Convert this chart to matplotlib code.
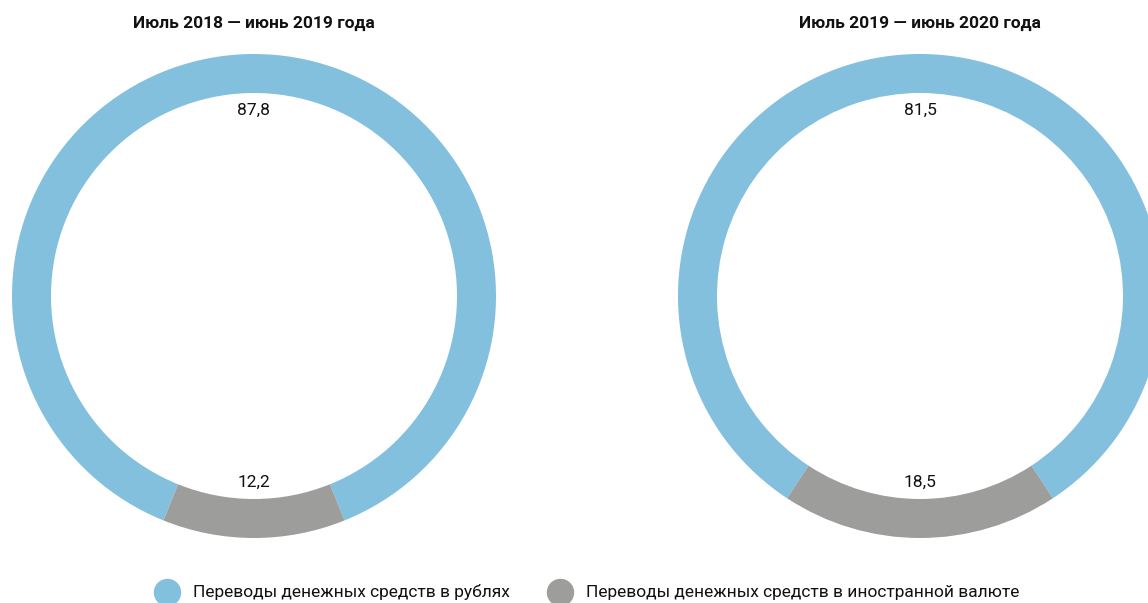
import matplotlib
matplotlib.use('Agg')
import matplotlib.pyplot as plt

plt.rcParams['font.family'] = ['Roboto', 'DejaVu Sans']

# data
periods = ['Июль 2018 — июнь 2019 года', 'Июль 2019 — июнь 2020 года']
rub = [87.8, 81.5]
foreign = [12.2, 18.5]
series_names = ['Переводы денежных средств в рублях',
                'Переводы денежных средств в иностранной валюте']
colors = ['#82c0dd', '#9d9d9b']

W, H = 1148, 603
fig = plt.figure(figsize=(W / 100, H / 100), dpi=100)
ax = fig.add_axes([0, 0, 1, 1])

centers_x = [254, 920]
cy = H - 296
R = 242
ring = 39

for i in range(2):
    vals = [rub[i], foreign[i]]
    tot = sum(vals)
    # grey part centred at the bottom
    start = 270 - 360 * vals[0] / tot - 180 * vals[1] / tot
    ax.pie(vals, colors=colors, startangle=start, center=(centers_x[i], cy),
           radius=R, labels=[('%.1f' % v).replace('.', ',') for v in vals],
           labeldistance=186 / R,
           wedgeprops=dict(width=ring, linewidth=0),
           textprops=dict(ha='center', va='center', fontsize=12.5, color='#111111'))
    ax.text(centers_x[i], H - 23, periods[i], ha='center', va='center',
            fontsize=12.5, fontweight='bold', color='#111111')

# legend
leg_x = [167, 560]
for j in range(2):
    ax.scatter([leg_x[j]], [H - 592], s=390, color=colors[j], linewidths=0, clip_on=False)
    ax.text(leg_x[j] + 26, H - 592, series_names[j], ha='left', va='center',
            fontsize=12.5, color='#111111')

ax.set_xlim(0, W)
ax.set_ylim(0, H)
ax.set_aspect('equal')
ax.axis('off')

fig.savefig('out.png', dpi=100)
